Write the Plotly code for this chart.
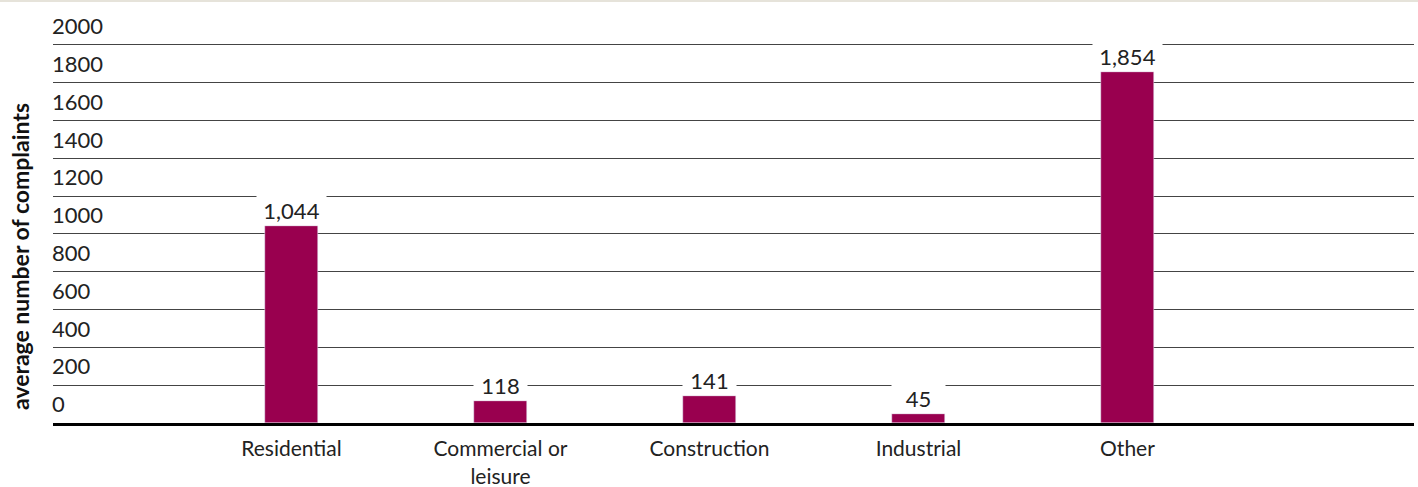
import plotly.graph_objects as go

categories = ["Residential", "Commercial or<br>leisure", "Construction", "Industrial", "Other"]
values = [1044, 118, 141, 45, 1854]
value_labels = ["1,044", "118", "141", "45", "1,854"]
y_ticks = [0, 200, 400, 600, 800, 1000, 1200, 1400, 1600, 1800, 2000]
y_title = "average number of complaints"

BAR = "#99004f"
FONT = "Lato"
W, H = 1418, 487
L, R, T, B = 53, 4, 7, 64
PW, PH = W - L - R, H - T - B

fig = go.Figure()
fig.add_trace(go.Bar(
    x=categories, y=values, marker_color=BAR, width=0.2536,
    hoverinfo="skip", showlegend=False,
))

for c, v, lbl in zip(categories, values, value_labels):
    box = 53 if len(lbl) <= 3 else 69
    fig.add_annotation(
        x=c, y=v, xref="x", yref="y", text=lbl, showarrow=False,
        yanchor="bottom", yshift=0, bgcolor="white", borderpad=1,
        width=box - 2, align="center",
        font=dict(family=FONT, size=22, color="#222"),
    )

# y-axis title as annotation
fig.add_annotation(
    x=(20 - L) / PW, y=(T + PH - 257) / PH, xref="paper", yref="paper",
    text="<b>" + y_title + "</b>", textangle=-90, showarrow=False,
    xanchor="center", yanchor="middle",
    font=dict(family=FONT, size=23, color="#111"),
)

fig.add_shape(type="line", xref="paper", yref="paper",
              x0=-L / PW, x1=1 + R / PW,
              y0=1 + (T - 1) / PH, y1=1 + (T - 1) / PH,
              line=dict(color="#e6e3da", width=2))

fig.update_layout(
    width=W, height=H,
    margin=dict(l=L, r=R, t=T, b=B, pad=0),
    paper_bgcolor="white", plot_bgcolor="white",
    font=dict(family=FONT, size=22, color="#222"),
    bargap=0,
)
fig.update_xaxes(
    type="category", range=[-1.141, 5.371], automargin=False,
    showgrid=False, showline=True, linecolor="black", linewidth=3,
    ticks="", ticklabelstandoff=5,
    tickfont=dict(family=FONT, size=21, color="#222"),
)
fig.update_yaxes(
    range=[0, 2200], tickvals=y_ticks, ticktext=[str(t) for t in y_ticks],
    automargin=False,
    showgrid=True, gridcolor="#444", gridwidth=1,
    zeroline=False, showline=False, ticks="",
    ticklabelposition="inside top", ticklabelstandoff=-4, ticklabelshift=-3,
    tickfont=dict(family=FONT, size=22, color="#222"),
)

fig.write_html("out.html")
